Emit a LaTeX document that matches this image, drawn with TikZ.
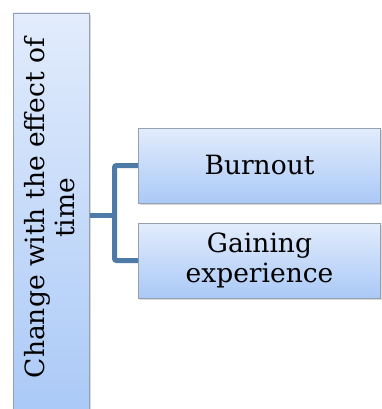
\documentclass[tikz,border=0pt]{standalone}
\usepackage{fontspec}
\setmainfont{DejaVu Serif}
\usetikzlibrary{shadows}
\definecolor{boxtop}{RGB}{226,236,252}
\definecolor{boxbot}{RGB}{170,201,247}
\definecolor{boxline}{RGB}{150,160,175}
\definecolor{linkblue}{RGB}{78,122,168}

\begin{document}
\begin{tikzpicture}[x=1pt,y=-1pt,
	blockbox/.style={draw=boxline,line width=0.8pt,top color=boxtop,bottom color=boxbot,
		drop shadow={shadow xshift=1pt,shadow yshift=-2pt,opacity=0.3},
		align=center,inner sep=2pt,font=\fontsize{26.5}{30}\selectfont},
	link/.style={draw=linkblue,line width=5pt,rounded corners=2pt}]
	\useasboundingbox (0,0) rectangle (381,409);
	\node[blockbox,minimum width=76pt,minimum height=404pt] (change) at (51.5,215) {};
	\node[rotate=90,align=center,inner sep=0pt,font=\fontsize{26.5}{30}\selectfont]
		(changetext) at (50,208) {Change with the effect of\\time};
	\node[blockbox,minimum width=242pt,minimum height=75pt] (burnout) at (259.5,165.5) {Burnout};
	\node[blockbox,minimum width=242pt,minimum height=75pt] (gaining) at (259.5,260.5) {Gaining\\experience};
	\coordinate (fork) at (114.5,215);
	\draw[link] (change.east) -- (fork);
	\draw[link] (burnout.west) -| (fork) |- (gaining.west);
\end{tikzpicture}
\end{document}
